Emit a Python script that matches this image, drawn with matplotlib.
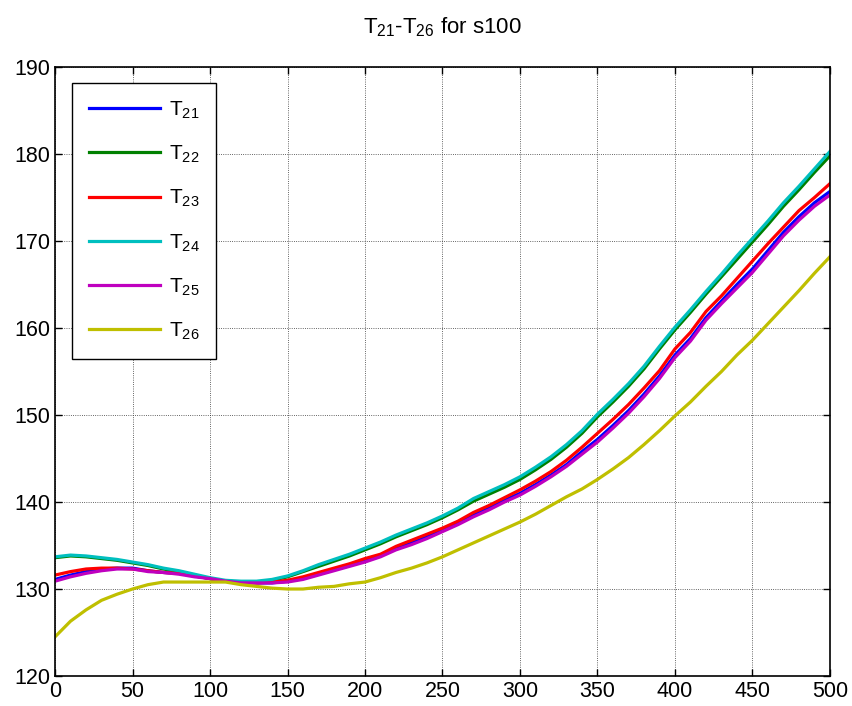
import matplotlib
matplotlib.use("Agg")
import matplotlib.pyplot as plt

plt.rcParams["font.family"] = ["Liberation Sans", "DejaVu Sans"]
plt.rcParams["mathtext.default"] = "regular"

# Zeitachse (alle 10 Schritte)
t = list(range(0, 510, 10))

T21 = [131.1, 131.6, 132.0, 132.3, 132.4, 132.4, 132.1, 131.9, 131.8, 131.5,
       131.2, 130.9, 130.8, 130.7, 130.7, 130.9, 131.2, 131.7, 132.2, 132.7,
       133.3, 133.8, 134.7, 135.3, 136.0, 136.8, 137.6, 138.5, 139.3, 140.2,
       141.0, 142.0, 143.1, 144.3, 145.8, 147.2, 148.8, 150.5, 152.4, 154.5,
       156.9, 158.8, 161.2, 163.1, 165.0, 166.8, 168.9, 171.0, 172.8, 174.4,
       175.7]
T22 = [133.6, 133.8, 133.7, 133.5, 133.3, 133.0, 132.7, 132.3, 132.0, 131.6,
       131.2, 130.9, 130.8, 130.8, 131.0, 131.4, 132.0, 132.6, 133.2, 133.8,
       134.5, 135.2, 136.0, 136.7, 137.4, 138.2, 139.1, 140.1, 140.9, 141.7,
       142.6, 143.7, 144.9, 146.3, 147.9, 149.8, 151.5, 153.3, 155.3, 157.6,
       159.8, 161.8, 163.9, 165.9, 167.9, 169.9, 171.9, 174.0, 175.9, 177.9,
       179.8]
T23 = [131.6, 132.0, 132.3, 132.4, 132.4, 132.3, 132.1, 131.9, 131.8, 131.5,
       131.2, 130.9, 130.8, 130.7, 130.8, 131.0, 131.4, 131.9, 132.4, 132.9,
       133.5, 134.0, 134.9, 135.6, 136.3, 137.0, 137.8, 138.8, 139.6, 140.5,
       141.4, 142.4, 143.5, 144.8, 146.3, 147.9, 149.5, 151.2, 153.1, 155.1,
       157.6, 159.5, 161.9, 163.7, 165.7, 167.7, 169.7, 171.6, 173.5, 175.0,
       176.6]
T24 = [133.7, 133.9, 133.8, 133.6, 133.4, 133.1, 132.8, 132.4, 132.1, 131.7,
       131.3, 131.0, 130.9, 130.9, 131.1, 131.5, 132.1, 132.8, 133.4, 134.0,
       134.7, 135.4, 136.2, 136.9, 137.6, 138.4, 139.3, 140.4, 141.2, 142.0,
       142.9, 144.0, 145.2, 146.6, 148.2, 150.1, 151.8, 153.6, 155.6, 157.9,
       160.1, 162.1, 164.2, 166.2, 168.3, 170.3, 172.3, 174.4, 176.3, 178.3,
       180.3]
T25 = [130.9, 131.4, 131.8, 132.1, 132.3, 132.3, 132.0, 131.9, 131.7, 131.4,
       131.2, 130.9, 130.7, 130.7, 130.7, 130.8, 131.1, 131.6, 132.1, 132.6,
       133.1, 133.7, 134.5, 135.1, 135.8, 136.6, 137.4, 138.3, 139.1, 140.0,
       140.8, 141.8, 142.9, 144.1, 145.5, 146.9, 148.5, 150.2, 152.1, 154.2,
       156.6, 158.5, 160.9, 162.8, 164.6, 166.4, 168.5, 170.6, 172.4, 174.0,
       175.3]
T26 = [124.5, 126.3, 127.6, 128.7, 129.4, 130.0, 130.5, 130.8, 130.8, 130.8,
       130.8, 130.8, 130.5, 130.3, 130.1, 130.0, 130.0, 130.2, 130.3, 130.6,
       130.8, 131.3, 131.9, 132.4, 133.0, 133.7, 134.5, 135.3, 136.1, 136.9,
       137.7, 138.6, 139.6, 140.6, 141.5, 142.6, 143.8, 145.1, 146.6, 148.2,
       149.9, 151.5, 153.3, 155.0, 156.9, 158.6, 160.5, 162.4, 164.3, 166.3,
       168.2]

series = [T21, T22, T23, T24, T25, T26]
labels = ["$T_{21}$", "$T_{22}$", "$T_{23}$", "$T_{24}$", "$T_{25}$", "$T_{26}$"]
colors = ["#0000ff", "#008000", "#ff0000", "#00bfbf", "#bf00bf", "#bfbf00"]

fig = plt.figure(figsize=(8.53, 7.06), dpi=100)
ax = fig.add_axes([0.0645, 0.0425, 0.9085, 0.8625])

for y, lab, col in zip(series, labels, colors):
    ax.plot(t, y, color=col, linewidth=2.3, label=lab)

ax.set_xlim(0, 500)
ax.set_ylim(120, 190)
ax.set_xticks(range(0, 501, 50))
ax.set_yticks(range(120, 191, 10))
ax.tick_params(direction="in", top=True, right=True, labelsize=15.5, length=5, width=1)
ax.grid(True, color="#333333", linestyle=":", linewidth=0.6)
for sp in ax.spines.values():
    sp.set_linewidth(1.2)

ax.set_title("$T_{21}$-$T_{26}$ for s100", fontsize=16, pad=24)

leg = ax.legend(loc="upper left", bbox_to_anchor=(0.022, 0.974), borderaxespad=0,
                fontsize=15, fancybox=False, framealpha=1, edgecolor="black",
                handlelength=3.4, labelspacing=1.1, borderpad=0.8,
                handletextpad=0.45)
leg.get_frame().set_linewidth(1.0)

fig.savefig("out.png", dpi=100)
